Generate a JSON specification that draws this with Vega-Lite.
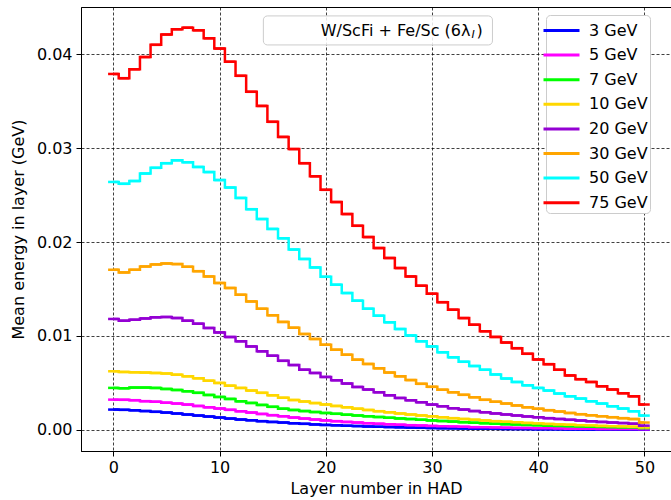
{
  "$schema": "https://vega.github.io/schema/vega-lite/v6.json",
  "width": 590,
  "height": 444,
  "autosize": {"type": "none"},
  "padding": {"left": 81, "top": 7, "right": 0, "bottom": 49},
  "background": "white",
  "config": {
    "view": {"stroke": "black", "strokeWidth": 1},
    "font": "DejaVu Sans",
    "axis": {
      "domainColor": "black", "domainWidth": 1,
      "tickColor": "black", "tickSize": 5, "tickWidth": 1,
      "labelFont": "DejaVu Sans", "labelFontSize": 16, "labelColor": "black",
      "titleFont": "DejaVu Sans", "titleFontSize": 16, "titleFontWeight": "normal", "titleColor": "black",
      "gridColor": "black", "gridDash": [3, 2], "gridWidth": 1, "gridOpacity": 0.75
    },
    "legend": {
      "orient": "none", "legendX": 465, "legendY": 8,
      "padding": 2, "fillColor": "white", "strokeColor": "#cccccc", "cornerRadius": 4,
      "labelFont": "DejaVu Sans", "labelFontSize": 16, "labelColor": "black",
      "symbolType": "M-1.5,0H1.5", "symbolSize": 576, "symbolStrokeWidth": 3,
      "labelOffset": 14, "rowPadding": 2.6
    }
  },
  "datasets": {
    "layers": [
      {"layer": 0, "3 GeV": 0.00216, "5 GeV": 0.00322, "7 GeV": 0.00447, "10 GeV": 0.00624, "20 GeV": 0.01181, "30 GeV": 0.01705, "50 GeV": 0.0264, "75 GeV": 0.0379},
      {"layer": 1, "3 GeV": 0.00213, "5 GeV": 0.0032, "7 GeV": 0.00443, "10 GeV": 0.00617, "20 GeV": 0.01163, "30 GeV": 0.01677, "50 GeV": 0.0262, "75 GeV": 0.03745},
      {"layer": 2, "3 GeV": 0.00208, "5 GeV": 0.00316, "7 GeV": 0.0045, "10 GeV": 0.00613, "20 GeV": 0.01173, "30 GeV": 0.01705, "50 GeV": 0.0265, "75 GeV": 0.0384},
      {"layer": 3, "3 GeV": 0.002, "5 GeV": 0.00306, "7 GeV": 0.0045, "10 GeV": 0.0061, "20 GeV": 0.01187, "30 GeV": 0.0174, "50 GeV": 0.0273, "75 GeV": 0.0397},
      {"layer": 4, "3 GeV": 0.00192, "5 GeV": 0.003, "7 GeV": 0.00447, "10 GeV": 0.00606, "20 GeV": 0.01198, "30 GeV": 0.01762, "50 GeV": 0.0279, "75 GeV": 0.041},
      {"layer": 5, "3 GeV": 0.00184, "5 GeV": 0.0029, "7 GeV": 0.00436, "10 GeV": 0.006, "20 GeV": 0.01202, "30 GeV": 0.01772, "50 GeV": 0.0284, "75 GeV": 0.0421},
      {"layer": 6, "3 GeV": 0.00174, "5 GeV": 0.0028, "7 GeV": 0.00425, "10 GeV": 0.00588, "20 GeV": 0.01191, "30 GeV": 0.01765, "50 GeV": 0.0287, "75 GeV": 0.04266},
      {"layer": 7, "3 GeV": 0.00163, "5 GeV": 0.00269, "7 GeV": 0.00411, "10 GeV": 0.0057, "20 GeV": 0.01163, "30 GeV": 0.01737, "50 GeV": 0.0285, "75 GeV": 0.04283},
      {"layer": 8, "3 GeV": 0.00152, "5 GeV": 0.00255, "7 GeV": 0.00394, "10 GeV": 0.00549, "20 GeV": 0.01131, "30 GeV": 0.0169, "50 GeV": 0.028, "75 GeV": 0.04255},
      {"layer": 9, "3 GeV": 0.00142, "5 GeV": 0.0024, "7 GeV": 0.00372, "10 GeV": 0.00524, "20 GeV": 0.01085, "30 GeV": 0.01634, "50 GeV": 0.02745, "75 GeV": 0.0417},
      {"layer": 10, "3 GeV": 0.00131, "5 GeV": 0.00227, "7 GeV": 0.00351, "10 GeV": 0.005, "20 GeV": 0.01038, "30 GeV": 0.01564, "50 GeV": 0.0266, "75 GeV": 0.0406},
      {"layer": 11, "3 GeV": 0.0012, "5 GeV": 0.00213, "7 GeV": 0.0033, "10 GeV": 0.00471, "20 GeV": 0.00989, "30 GeV": 0.01511, "50 GeV": 0.0258, "75 GeV": 0.0392},
      {"layer": 12, "3 GeV": 0.0011, "5 GeV": 0.00198, "7 GeV": 0.00304, "10 GeV": 0.00447, "20 GeV": 0.00943, "30 GeV": 0.01439, "50 GeV": 0.0247, "75 GeV": 0.0377},
      {"layer": 13, "3 GeV": 0.00102, "5 GeV": 0.00184, "7 GeV": 0.00287, "10 GeV": 0.00418, "20 GeV": 0.00889, "30 GeV": 0.01368, "50 GeV": 0.0235, "75 GeV": 0.036},
      {"layer": 14, "3 GeV": 0.00093, "5 GeV": 0.0017, "7 GeV": 0.00266, "10 GeV": 0.00394, "20 GeV": 0.00836, "30 GeV": 0.0129, "50 GeV": 0.02245, "75 GeV": 0.0345},
      {"layer": 15, "3 GeV": 0.00085, "5 GeV": 0.00157, "7 GeV": 0.00245, "10 GeV": 0.00368, "20 GeV": 0.0079, "30 GeV": 0.0122, "50 GeV": 0.0214, "75 GeV": 0.0328},
      {"layer": 16, "3 GeV": 0.00078, "5 GeV": 0.00145, "7 GeV": 0.00226, "10 GeV": 0.00342, "20 GeV": 0.00735, "30 GeV": 0.0115, "50 GeV": 0.0204, "75 GeV": 0.0312},
      {"layer": 17, "3 GeV": 0.0007, "5 GeV": 0.00131, "7 GeV": 0.00212, "10 GeV": 0.00318, "20 GeV": 0.0069, "30 GeV": 0.01088, "50 GeV": 0.0192, "75 GeV": 0.0299},
      {"layer": 18, "3 GeV": 0.00064, "5 GeV": 0.0012, "7 GeV": 0.002, "10 GeV": 0.00302, "20 GeV": 0.00641, "30 GeV": 0.01021, "50 GeV": 0.0182, "75 GeV": 0.0284},
      {"layer": 19, "3 GeV": 0.00058, "5 GeV": 0.0011, "7 GeV": 0.0019, "10 GeV": 0.00285, "20 GeV": 0.00606, "30 GeV": 0.00968, "50 GeV": 0.0173, "75 GeV": 0.027},
      {"layer": 20, "3 GeV": 0.00053, "5 GeV": 0.00101, "7 GeV": 0.0018, "10 GeV": 0.0027, "20 GeV": 0.00564, "30 GeV": 0.00907, "50 GeV": 0.0163, "75 GeV": 0.02556},
      {"layer": 21, "3 GeV": 0.00048, "5 GeV": 0.00093, "7 GeV": 0.00171, "10 GeV": 0.00255, "20 GeV": 0.00528, "30 GeV": 0.00854, "50 GeV": 0.01546, "75 GeV": 0.02426},
      {"layer": 22, "3 GeV": 0.00044, "5 GeV": 0.00085, "7 GeV": 0.00162, "10 GeV": 0.0024, "20 GeV": 0.00493, "30 GeV": 0.00801, "50 GeV": 0.01457, "75 GeV": 0.02298},
      {"layer": 23, "3 GeV": 0.0004, "5 GeV": 0.00078, "7 GeV": 0.00153, "10 GeV": 0.00226, "20 GeV": 0.00457, "30 GeV": 0.00748, "50 GeV": 0.01376, "75 GeV": 0.02173},
      {"layer": 24, "3 GeV": 0.00036, "5 GeV": 0.00071, "7 GeV": 0.00145, "10 GeV": 0.00212, "20 GeV": 0.00429, "30 GeV": 0.00702, "50 GeV": 0.0129, "75 GeV": 0.02053},
      {"layer": 25, "3 GeV": 0.00033, "5 GeV": 0.00065, "7 GeV": 0.00137, "10 GeV": 0.00199, "20 GeV": 0.004, "30 GeV": 0.00655, "50 GeV": 0.01216, "75 GeV": 0.01936},
      {"layer": 26, "3 GeV": 0.0003, "5 GeV": 0.0006, "7 GeV": 0.00129, "10 GeV": 0.00187, "20 GeV": 0.00368, "30 GeV": 0.0061, "50 GeV": 0.01145, "75 GeV": 0.0183},
      {"layer": 27, "3 GeV": 0.00027, "5 GeV": 0.00055, "7 GeV": 0.00122, "10 GeV": 0.00175, "20 GeV": 0.0034, "30 GeV": 0.0057, "50 GeV": 0.01074, "75 GeV": 0.01723},
      {"layer": 28, "3 GeV": 0.00024, "5 GeV": 0.0005, "7 GeV": 0.00115, "10 GeV": 0.00164, "20 GeV": 0.00315, "30 GeV": 0.0053, "50 GeV": 0.01006, "75 GeV": 0.01634},
      {"layer": 29, "3 GeV": 0.00022, "5 GeV": 0.00046, "7 GeV": 0.00108, "10 GeV": 0.00154, "20 GeV": 0.00294, "30 GeV": 0.0049, "50 GeV": 0.00943, "75 GeV": 0.01535},
      {"layer": 30, "3 GeV": 0.0002, "5 GeV": 0.00042, "7 GeV": 0.00101, "10 GeV": 0.00144, "20 GeV": 0.00269, "30 GeV": 0.00458, "50 GeV": 0.00889, "75 GeV": 0.0145},
      {"layer": 31, "3 GeV": 0.00018, "5 GeV": 0.00038, "7 GeV": 0.00094, "10 GeV": 0.00134, "20 GeV": 0.00251, "30 GeV": 0.00428, "50 GeV": 0.00826, "75 GeV": 0.0136},
      {"layer": 32, "3 GeV": 0.00016, "5 GeV": 0.00035, "7 GeV": 0.00088, "10 GeV": 0.00125, "20 GeV": 0.0023, "30 GeV": 0.004, "50 GeV": 0.00772, "75 GeV": 0.0128},
      {"layer": 33, "3 GeV": 0.00015, "5 GeV": 0.00032, "7 GeV": 0.00082, "10 GeV": 0.00116, "20 GeV": 0.00216, "30 GeV": 0.00373, "50 GeV": 0.00725, "75 GeV": 0.0119},
      {"layer": 34, "3 GeV": 0.00013, "5 GeV": 0.00029, "7 GeV": 0.00076, "10 GeV": 0.00108, "20 GeV": 0.002, "30 GeV": 0.00347, "50 GeV": 0.0068, "75 GeV": 0.0112},
      {"layer": 35, "3 GeV": 0.00012, "5 GeV": 0.00027, "7 GeV": 0.00071, "10 GeV": 0.001, "20 GeV": 0.00187, "30 GeV": 0.0032, "50 GeV": 0.0064, "75 GeV": 0.0105},
      {"layer": 36, "3 GeV": 0.00011, "5 GeV": 0.00025, "7 GeV": 0.00066, "10 GeV": 0.00093, "20 GeV": 0.00175, "30 GeV": 0.003, "50 GeV": 0.0059, "75 GeV": 0.0099},
      {"layer": 37, "3 GeV": 0.0001, "5 GeV": 0.00023, "7 GeV": 0.00061, "10 GeV": 0.00086, "20 GeV": 0.00164, "30 GeV": 0.0028, "50 GeV": 0.00546, "75 GeV": 0.0093},
      {"layer": 38, "3 GeV": 0.00009, "5 GeV": 0.00021, "7 GeV": 0.00057, "10 GeV": 0.0008, "20 GeV": 0.00153, "30 GeV": 0.0026, "50 GeV": 0.0051, "75 GeV": 0.0087},
      {"layer": 39, "3 GeV": 0.00008, "5 GeV": 0.00019, "7 GeV": 0.00053, "10 GeV": 0.00074, "20 GeV": 0.00143, "30 GeV": 0.0024, "50 GeV": 0.00474, "75 GeV": 0.0081},
      {"layer": 40, "3 GeV": 0.00007, "5 GeV": 0.00017, "7 GeV": 0.00049, "10 GeV": 0.00068, "20 GeV": 0.00134, "30 GeV": 0.00225, "50 GeV": 0.00447, "75 GeV": 0.0075},
      {"layer": 41, "3 GeV": 0.00007, "5 GeV": 0.00016, "7 GeV": 0.00045, "10 GeV": 0.00063, "20 GeV": 0.00125, "30 GeV": 0.0021, "50 GeV": 0.00418, "75 GeV": 0.007},
      {"layer": 42, "3 GeV": 0.00006, "5 GeV": 0.00015, "7 GeV": 0.00042, "10 GeV": 0.00058, "20 GeV": 0.00116, "30 GeV": 0.00195, "50 GeV": 0.00386, "75 GeV": 0.0064},
      {"layer": 43, "3 GeV": 0.00005, "5 GeV": 0.00013, "7 GeV": 0.00039, "10 GeV": 0.00054, "20 GeV": 0.00107, "30 GeV": 0.0018, "50 GeV": 0.00357, "75 GeV": 0.0058},
      {"layer": 44, "3 GeV": 0.00005, "5 GeV": 0.00012, "7 GeV": 0.00036, "10 GeV": 0.0005, "20 GeV": 0.00099, "30 GeV": 0.00167, "50 GeV": 0.00333, "75 GeV": 0.0054},
      {"layer": 45, "3 GeV": 0.00004, "5 GeV": 0.00011, "7 GeV": 0.00033, "10 GeV": 0.00046, "20 GeV": 0.00092, "30 GeV": 0.00155, "50 GeV": 0.00304, "75 GeV": 0.0051},
      {"layer": 46, "3 GeV": 0.00004, "5 GeV": 0.0001, "7 GeV": 0.0003, "10 GeV": 0.00042, "20 GeV": 0.00085, "30 GeV": 0.00145, "50 GeV": 0.0028, "75 GeV": 0.00464},
      {"layer": 47, "3 GeV": 0.00004, "5 GeV": 0.00009, "7 GeV": 0.00028, "10 GeV": 0.00039, "20 GeV": 0.00078, "30 GeV": 0.00135, "50 GeV": 0.00251, "75 GeV": 0.0043},
      {"layer": 48, "3 GeV": 0.00003, "5 GeV": 0.00009, "7 GeV": 0.00026, "10 GeV": 0.00036, "20 GeV": 0.00072, "30 GeV": 0.00125, "50 GeV": 0.00227, "75 GeV": 0.0039},
      {"layer": 49, "3 GeV": 0.00003, "5 GeV": 0.00008, "7 GeV": 0.00024, "10 GeV": 0.00033, "20 GeV": 0.00066, "30 GeV": 0.00115, "50 GeV": 0.00198, "75 GeV": 0.00357},
      {"layer": 50, "3 GeV": 0.00002, "5 GeV": 0.00006, "7 GeV": 0.00018, "10 GeV": 0.00025, "20 GeV": 0.00045, "30 GeV": 0.00078, "50 GeV": 0.00152, "75 GeV": 0.0027}
    ],
    "note": [{"label": "W/ScFi + Fe/Sc (6λ"}]
  },
  "layer": [
    {
      "data": {"name": "layers"},
      "transform": [
        {"fold": ["3 GeV", "5 GeV", "7 GeV", "10 GeV", "20 GeV", "30 GeV", "50 GeV", "75 GeV"], "as": ["series", "e"]}
      ],
      "encoding": {
        "y": {
          "field": "e", "type": "quantitative", "title": "Mean energy in layer (GeV)",
          "scale": {"domain": [-0.00225, 0.04503], "nice": false, "zero": false},
          "axis": {"values": [0, 0.01, 0.02, 0.03, 0.04], "format": ".2f", "labelPadding": 4, "titlePadding": 10}
        },
        "color": {
          "field": "series", "type": "nominal",
          "scale": {
            "domain": ["3 GeV", "5 GeV", "7 GeV", "10 GeV", "20 GeV", "30 GeV", "50 GeV", "75 GeV"],
            "range": ["#0000ff", "#ff00ff", "#00ff00", "#ffd700", "#9400d3", "#ffa500", "#00ffff", "#ff0000"]
          },
          "legend": {"title": null}
        }
      },
      "layer": [
        {
          "transform": [
            {"bin": {"step": 1, "anchor": -0.5, "nice": false, "extent": [-0.5, 50.5]}, "field": "layer", "as": ["l0", "l1"]}
          ],
          "mark": {"type": "rule", "strokeWidth": 2.5},
          "encoding": {
            "x": {"field": "l0", "type": "quantitative", "title": "Layer number in HAD"},
            "x2": {"field": "l1"}
          }
        },
        {
          "mark": {"type": "line", "interpolate": "step", "strokeWidth": 2.5},
          "encoding": {
            "x": {
              "field": "layer", "type": "quantitative", "title": "Layer number in HAD",
              "scale": {"domain": [-3.05, 52.5], "nice": false, "zero": false},
              "axis": {"values": [0, 10, 20, 30, 40, 50], "labelPadding": 3, "titlePadding": 5}
            }
          }
        }
      ]
    },
    {
      "data": {"name": "note"},
      "mark": {"type": "rect", "fill": "white", "fillOpacity": 0.85, "stroke": "#cccccc", "strokeWidth": 1, "cornerRadius": 4},
      "encoding": {
        "x": {"datum": 14.12, "type": "quantitative"},
        "x2": {"datum": 35.69},
        "y": {"datum": 0.04099, "type": "quantitative"},
        "y2": {"datum": 0.04408}
      }
    },
    {
      "data": {"name": "note"},
      "mark": {"type": "text", "align": "right", "baseline": "middle", "fontSize": 16, "font": "DejaVu Sans", "color": "black"},
      "encoding": {
        "x": {"datum": 33.62, "type": "quantitative"},
        "y": {"datum": 0.04248, "type": "quantitative"},
        "text": {"field": "label"}
      }
    },
    {
      "data": {"name": "note"},
      "mark": {"type": "text", "align": "left", "baseline": "middle", "fontSize": 11, "fontStyle": "italic", "font": "DejaVu Sans", "color": "black", "dx": 1, "dy": 4},
      "encoding": {
        "x": {"datum": 33.62, "type": "quantitative"},
        "y": {"datum": 0.04248, "type": "quantitative"},
        "text": {"value": "I"}
      }
    },
    {
      "data": {"name": "note"},
      "mark": {"type": "text", "align": "left", "baseline": "middle", "fontSize": 16, "font": "DejaVu Sans", "color": "black", "dx": 6},
      "encoding": {
        "x": {"datum": 33.62, "type": "quantitative"},
        "y": {"datum": 0.04248, "type": "quantitative"},
        "text": {"value": ")"}
      }
    }
  ]
}
